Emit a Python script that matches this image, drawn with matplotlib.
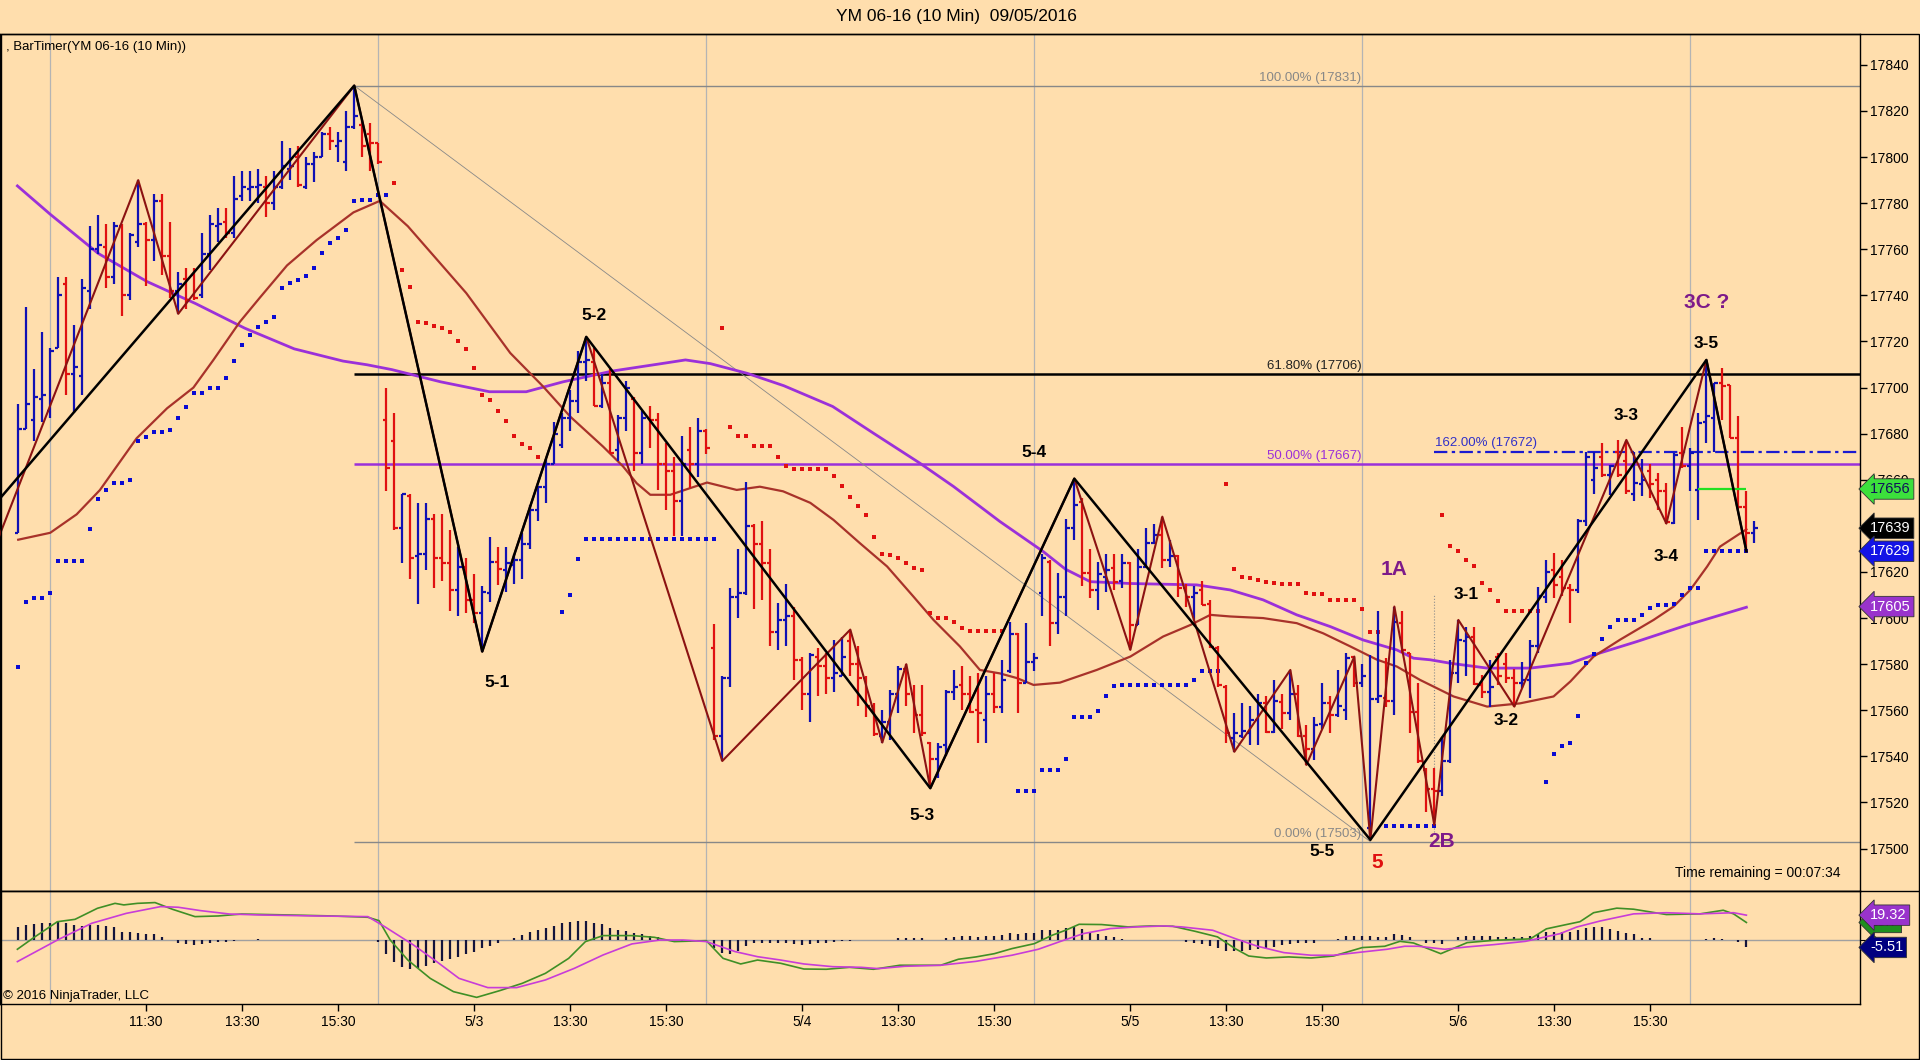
import numpy as np
import matplotlib
matplotlib.use("Agg")
import matplotlib.pyplot as plt
from matplotlib.patches import Rectangle
from matplotlib.lines import Line2D

plt.rcParams['font.family'] = ['Liberation Sans', 'DejaVu Sans']

# ---------------- data ----------------
first_bar = -4
opens = [
    17637, 17682, 17686, 17695, 17690, 17717, 17745, 17706, 17705, 17742,
    17760, 17761, 17748, 17770, 17740, 17763, 17771, 17764, 17781, 17757,
    17742, 17747, 17749, 17740, 17758, 17770, 17772, 17767, 17783, 17786,
    17787, 17787, 17780, 17787, 17795, 17800, 17787, 17797, 17800, 17810,
    17805, 17798, 17813, 17814, 17810, 17806, 17686, 17677, 17639, 17653,
    17627, 17628, 17643, 17626, 17624, 17612, 17622, 17608, 17602, 17611,
    17624.5, 17621, 17623, 17625, 17632, 17647, 17657, 17667, 17675, 17687,
    17694, 17711, 17711, 17692, 17702, 17673, 17687, 17695, 17671.5, 17687,
    17686, 17667, 17663.6, 17651, 17673, 17667, 17681, 17587, 17549, 17574,
    17609, 17611, 17640, 17632, 17624, 17594, 17599, 17601, 17582, 17567,
    17583, 17579, 17574, 17575, 17590, 17580, 17574, 17562, 17549, 17555,
    17567, 17578, 17567, 17558, 17546, 17539, 17545, 17568, 17571, 17567,
    17560, 17556, 17567, 17561.6, 17577, 17593, 17572, 17581, 17611, 17624.5,
    17598, 17609, 17639, 17650.5, 17619.5, 17612, 17618, 17621.6, 17616, 17624,
    17597, 17622, 17632.5, 17636, 17625, 17627, 17613, 17609, 17612, 17606,
    17587, 17570, 17548, 17549, 17550, 17556, 17563, 17550.7, 17563.5, 17559,
    17567, 17549, 17543, 17554, 17563, 17558, 17560, 17583, 17572, 17509,
    17565, 17565.3, 17564, 17598, 17585, 17559.4, 17534, 17526, 17525, 17538,
    17576, 17590, 17592, 17571, 17568, 17583, 17580, 17574, 17572, 17573,
    17588, 17609, 17621, 17618, 17613, 17612, 17642, 17660, 17670, 17662,
    17672, 17668, 17654, 17658, 17664, 17660, 17655, 17641.2, 17671.6, 17666,
    17655.6, 17685, 17687, 17702, 17701, 17678, 17648, 17637,
]
highs = [
    17693, 17735, 17708, 17724, 17717, 17748, 17748, 17727, 17747, 17770,
    17775, 17771, 17772, 17771, 17767, 17790, 17772, 17784, 17784, 17772,
    17750, 17752, 17752, 17767, 17775, 17778, 17778, 17792, 17794, 17794,
    17795, 17792, 17794, 17807, 17804, 17805, 17800, 17802, 17811, 17813,
    17811, 17820, 17831, 17816, 17815, 17806, 17700, 17689, 17654, 17654,
    17650, 17650, 17645, 17645, 17638, 17631, 17626, 17619, 17614, 17635,
    17631, 17631, 17628, 17637, 17649, 17657, 17669, 17685, 17689, 17699,
    17716, 17722, 17717, 17706, 17708, 17688, 17703, 17696, 17690, 17692,
    17689, 17676, 17670, 17679, 17683, 17687, 17682, 17597.5, 17575, 17613,
    17630, 17659, 17641, 17642, 17630, 17606.5, 17615, 17605, 17583, 17585,
    17587, 17585, 17590.5, 17592, 17595, 17588, 17575, 17563, 17560, 17569,
    17579, 17580, 17571, 17571, 17546.4, 17546, 17569, 17577.5, 17579, 17575,
    17576, 17575, 17576, 17582, 17598.5, 17593.4, 17598, 17585, 17628, 17625,
    17619.5, 17643, 17660.5, 17652, 17630, 17624.5, 17628, 17628, 17628, 17624.5,
    17630, 17639, 17641, 17644, 17634, 17627.4, 17615, 17614, 17616, 17608,
    17588, 17571, 17559, 17563, 17562, 17567, 17566, 17573, 17567, 17577.5,
    17571, 17553.6, 17557, 17572, 17566, 17577.5, 17585, 17583.3, 17580, 17584,
    17603, 17582.6, 17605, 17603, 17585, 17572, 17535, 17534.8, 17548.6, 17582,
    17599, 17596, 17596.3, 17575.4, 17582, 17585, 17585, 17578, 17581, 17590.6,
    17613.7, 17625.3, 17628.2, 17625.3, 17615, 17643, 17672, 17672, 17676, 17666.5,
    17677.3, 17677, 17672, 17669, 17667, 17663, 17658.5, 17671.6, 17683, 17673.7,
    17689, 17712, 17702, 17708.4, 17701, 17687.5, 17655, 17642,
]
lows = [
    17637, 17682, 17677, 17685, 17687, 17717, 17697, 17689, 17697, 17734,
    17758, 17743, 17745, 17731, 17738, 17761, 17744, 17755, 17749, 17739,
    17732, 17734, 17738, 17739, 17751, 17763, 17765, 17765, 17781, 17781,
    17780, 17774, 17777, 17786, 17790, 17787, 17786, 17789, 17800, 17803,
    17798, 17794, 17812, 17800, 17794, 17797, 17655, 17638, 17624, 17617,
    17606, 17621, 17613, 17616, 17603, 17601, 17602, 17598, 17585.5, 17607,
    17614.5, 17611.5, 17615, 17617, 17630, 17642, 17650, 17667, 17674, 17681,
    17689, 17703, 17692, 17691, 17671.5, 17668, 17681, 17664, 17667, 17674,
    17655.6, 17647, 17635.4, 17635.4, 17656.4, 17661, 17671, 17547, 17538, 17570,
    17600, 17610, 17604, 17608, 17588, 17586, 17588, 17573, 17560, 17555,
    17566, 17567, 17568, 17575, 17575, 17562, 17557, 17549, 17546, 17547,
    17559, 17562, 17550, 17549, 17526.2, 17530.5, 17540, 17564.5, 17560, 17559,
    17546, 17546, 17559, 17559, 17576, 17559, 17572, 17577, 17601, 17588,
    17593, 17601, 17634, 17614, 17608.6, 17603.5, 17611.5, 17612, 17613, 17586.2,
    17597, 17622, 17632, 17621.6, 17622, 17609, 17605, 17599, 17605.7, 17587,
    17570, 17545.7, 17542, 17548, 17545, 17545, 17550, 17550, 17552, 17556,
    17548.6, 17536.3, 17538.5, 17552, 17550, 17557, 17556, 17570, 17570, 17503.8,
    17563, 17561.6, 17558, 17585, 17550, 17537, 17516, 17510.3, 17522.6, 17537,
    17572, 17575, 17571, 17565.3, 17561.6, 17571, 17572, 17561.6, 17569.6, 17565.3,
    17584.8, 17606.5, 17608.6, 17609.4, 17597.8, 17611, 17640, 17654, 17661, 17653.5,
    17661, 17654, 17651, 17653, 17652, 17647, 17641, 17641, 17665, 17655,
    17642.6, 17676, 17672, 17686, 17678, 17647.5, 17629, 17632.5,
]
closes = [
    17682, 17693, 17696, 17697, 17716, 17740, 17706, 17709, 17743, 17760,
    17762, 17748, 17770, 17740, 17766, 17771, 17764, 17781, 17757, 17742,
    17745, 17738, 17739, 17758, 17771, 17771, 17767, 17782, 17787, 17787,
    17788, 17780, 17787, 17796, 17796, 17788, 17797, 17800, 17810, 17807,
    17807, 17813, 17818, 17805, 17806, 17798, 17665, 17639, 17654, 17626,
    17628, 17643, 17626, 17624, 17612, 17622, 17608, 17602, 17611.5, 17624.5,
    17621.5, 17624, 17625, 17632, 17647, 17657, 17667, 17680, 17687, 17694,
    17711, 17712, 17692, 17702, 17671.5, 17687, 17700, 17671.5, 17687, 17686,
    17667, 17663.6, 17651, 17667, 17667, 17681, 17674, 17549, 17574, 17609,
    17611, 17640, 17632, 17624, 17594, 17599, 17601, 17582, 17567, 17584,
    17579, 17574, 17576, 17583, 17580, 17574, 17562, 17549.5, 17555, 17567,
    17578, 17567, 17558, 17550, 17539, 17544, 17568, 17570, 17567, 17559.4,
    17558.7, 17567, 17561.6, 17573, 17593, 17572, 17581, 17582.6, 17626, 17598,
    17609, 17639, 17649, 17619.5, 17612, 17619, 17621, 17615.8, 17624, 17597,
    17622, 17632.5, 17636, 17625, 17627, 17613, 17609, 17611, 17605.7, 17587.5,
    17571, 17550, 17550, 17551, 17556, 17563, 17550.5, 17564, 17559, 17567,
    17549, 17543, 17553.6, 17563, 17558, 17562, 17582.6, 17572, 17575, 17565,
    17566, 17564, 17598.5, 17586, 17559.4, 17538, 17526, 17525, 17538, 17576,
    17590.6, 17592, 17571.5, 17568, 17570, 17575, 17574, 17572, 17573.2, 17587.7,
    17609.4, 17620, 17614.4, 17613, 17612.3, 17642, 17670, 17665, 17662, 17665.8,
    17662, 17655, 17658.5, 17660, 17658, 17655, 17641.5, 17670.8, 17665.8, 17671.6,
    17684.6, 17687.5, 17701.9, 17700.5, 17678.1, 17648, 17637, 17639,
]

# parabolic SAR dots (runs: first bar index + values)
sar_below_start = [-4, 64, 121, 167, 187]
sar_below_vals = [
    [17578.8, 17607, 17608.7, 17608.7, 17611, 17624.8, 17624.8, 17624.8, 17624.8, 17638.6,
     17651.7, 17655.5, 17658.8, 17658.8, 17660, 17677, 17678.7, 17680.9, 17680.9, 17681.7,
     17687, 17691.7, 17697.8, 17697.8, 17700, 17700, 17704, 17711.6, 17718.6, 17722.7,
     17726.5, 17728.5, 17730.5, 17743, 17745.5, 17746.8, 17748.4, 17751.8, 17758.4, 17762.7,
     17764.7, 17768.4, 17780.8, 17781.4, 17781.4, 17783.6, 17783.6],
    [17602.8, 17610.1, 17625.5] + [17634.5] * 17,
    [17525.2, 17525.2, 17525.2, 17534.1, 17534.1, 17534.1, 17538.9, 17557.3, 17557.3, 17557.3,
     17559.9, 17566, 17570.6] + [17571] * 9 + [17573, 17577.2, 17577.2, 17577.2],
    [17509.8] * 7,
    [17528.9, 17541, 17544.5, 17545.7, 17557.5, 17580.4, 17584.4, 17591.1, 17596.1, 17599,
     17599, 17599, 17601.2, 17604.5, 17605.6, 17605.8, 17606.2, 17610.1, 17612.9, 17612.9]
    + [17629] * 6,
]
sar_above_start = [43, 84, 147, 174]
sar_above_vals = [
    [17788.7, 17750.8, 17743.8, 17728.6, 17728, 17726.9, 17725.8, 17723.9, 17720, 17716.8,
     17708.7, 17696.8, 17694.7, 17689.9, 17685.6, 17678.8, 17675.6, 17673.7, 17670.1],
    [17725.8, 17683, 17679, 17679, 17674.7, 17674.7, 17674.7, 17670.1, 17665.8]
    + [17664.7] * 5
    + [17661.7, 17657.1, 17652.7, 17648.7, 17644.8, 17635, 17627.9, 17627.4, 17626, 17623.8,
       17621.9, 17620.9, 17602.1, 17600.2, 17600.2, 17598.1, 17595.6] + [17594.2] * 5,
    [17658.1, 17621.2, 17618, 17617.3, 17616.6, 17615.8, 17615.1, 17614.8, 17614.8, 17614.8,
     17610.8, 17610.3, 17610.3, 17607.9, 17607.9, 17607.9, 17607.9, 17604, 17594.1, 17594.1],
    [17644.8, 17631.1, 17628.9, 17625, 17622.7, 17615.1, 17612, 17607.2] + [17602.9] * 5,
]

# moving averages (read at chart positions)
ema_x = [-4, 0, 3.3, 6.2, 10.8, 14.6, 17.9, 20.4, 23.7, 26.2, 29.6, 33.3, 37.9, 41.2, 44.7, 52,
         57.5, 61.6, 65, 69.1, 71.6, 73.3, 75, 77.5, 80, 82.1, 85.8, 88.7, 91.6, 95, 97.9, 101.2,
         104.6, 107.9, 110.4, 113.7, 116.2, 118.7, 120.8, 122.9, 126.2, 130.8, 135, 139.1, 142.5,
         145, 147.5, 151.6, 155.8, 159.1, 162.5, 165.8, 168.3, 171.2, 175.4, 179.6, 183.7, 187.9,
         190, 192.9, 196.2, 200.4, 202.9, 205, 207.1, 208.7, 212]
ema_y = [17634, 17637, 17645, 17655.5, 17678, 17691, 17700, 17712, 17728.5, 17739, 17753, 17764,
         17776, 17781, 17770, 17741, 17715, 17700.5, 17687.4, 17674.4, 17665.8, 17658.5, 17653.5,
         17653.5, 17656.4, 17658.8, 17655.6, 17657, 17655, 17650, 17642.6, 17632.5, 17622.4,
         17609.3, 17599.2, 17587.7, 17577.5, 17576, 17574, 17571, 17572, 17577.5, 17583.3, 17592,
         17597, 17601.4, 17600.7, 17600, 17597.8, 17593.4, 17587.7, 17582, 17579, 17573.2, 17566,
         17561.6, 17563, 17566, 17572.5, 17583.3, 17590.6, 17599.2, 17605, 17612.3, 17622.4,
         17631, 17638.5]
sma_x = [-4.1, 0, 6, 12.1, 18.2, 24.3, 30.5, 36.6, 39.6, 42.7, 48.8, 54.9, 59.5, 64.1, 70.3, 76.4,
         79.4, 82.5, 87.1, 91.7, 97.8, 102.9, 108.7, 112.9, 118.7, 124.1, 126.9, 130, 135, 143.3,
         147.5, 151.6, 155.8, 160, 164.1, 168.3, 170.4, 172.5, 175, 179.6, 185, 190, 192.9, 198.3,
         204.6, 212]
sma_y = [17787.5, 17775.2, 17758.2, 17746, 17736.4, 17725.8, 17716.8, 17711.5, 17709.9, 17707.8,
         17702.5, 17698.2, 17698.2, 17702.5, 17707.2, 17710.4, 17712, 17710.4, 17706.2, 17700.8,
         17691.8, 17680.2, 17667.2, 17657.1, 17641.9, 17628.9, 17621.2, 17615.8, 17615, 17614.4,
         17612.2, 17607.9, 17601.4, 17596.3, 17590.5, 17586.2, 17582.6, 17581.9, 17580.4, 17578.3,
         17578.3, 17580.4, 17584, 17589.8, 17597, 17604.7]

# swing (zigzag) pivots
major_zz_x = [-7, 38, 54, 67, 110, 128, 165, 207, 212]
major_zz_y = [17649, 17831, 17585.5, 17722, 17526.2, 17660.5, 17503.8, 17712, 17629]
minor_zz_x = [-7, 11, 16, 38, 54, 67, 84, 100, 104, 107, 110, 128, 135, 139, 148, 155, 157, 163,
              165, 168, 173, 176, 183, 197, 202, 207, 212]
minor_zz_y = [17630, 17790, 17732, 17831, 17585.5, 17722, 17538, 17595, 17546, 17580, 17526.2,
              17660.5, 17586.2, 17644, 17542, 17577.5, 17536.3, 17583.3, 17503.8, 17605, 17510.3,
              17599.2, 17561.6, 17677.3, 17641, 17712, 17629]

# Fibonacci retracement (from high bar 38 to low bar 165)
fib_from_bar, fib_to_bar = 38, 165
fib_names = ['100.00%', '61.80%', '50.00%', '0.00%']
fib_levels = [17831, 17706, 17667, 17503]
ext_name, ext_level, ext_from_bar = '162.00%', 17672, 173

# oscillator panel
osc_fast_x = [-4.1, -2, 0.9, 3.1, 5.9, 8.1, 9.2, 10.9, 13.1, 15.3, 18.1, 21, 23.9, 29.6, 35.3, 39.7,
              41.1, 42.5, 44.7, 47.5, 50.4, 53.3, 56.2, 59, 61.9, 64.8, 66.9, 69.1, 72.7, 75.5, 78,
              82, 84.1, 86.3, 88.4, 91.3, 94.2, 97, 99.9, 102.9, 106.2, 111.3, 113.5, 115.7, 118,
              120.2, 123, 125.2, 126.9, 128.6, 131.4, 134.7, 137.5, 140.3, 143.1, 145.9, 148.1,
              149.8, 152, 154.8, 157.6, 160.4, 164, 166.8, 168.7, 170.4, 173.8, 177.1, 180.5, 185,
              187, 189.5, 191.2, 192.9, 195.8, 197.9, 202, 206.2, 209.1, 210.4, 212]
osc_fast_y = [-6.9, 2.3, 14.3, 16.1, 24.6, 28.4, 27.2, 28.4, 29, 23.8, 18.2, 18.7, 20.2, 19.5, 18.7,
              17.7, 15.1, 0.2, -15.2, -29.3, -39.5, -43.9, -38.7, -33.1, -25.4, -13.9, -1, 3.6,
              3.6, 2.3, -1, -0.3, -13.9, -18.2, -15.2, -17.7, -22.1, -22.3, -20.8, -22.3, -19.2,
              -19.2, -14.6, -12.8, -10.3, -6.4, -2.6, 3.8, 7.7, 12.3, 12.1, 10.3, 11, 10.8, 6.9,
              2.6, -6.4, -12.1, -13.6, -12.8, -13.6, -12.1, -5.6, -4.6, -0.8, -2.1, -10.3, -1.8,
              0, 1.1, 8.8, 12.1, 14.3, 21.2, 24.7, 23.9, 19.8, 20.3, 23.1, 20.3, 13.7]
osc_slow_x = [-4.1, 0.9, 5.2, 9.5, 13.8, 16, 18.8, 22.4, 26, 33.2, 39.7, 41.8, 45.4, 48.3, 51.1,
              54.7, 58.3, 61.9, 65.5, 69.1, 72.7, 76.2, 79.1, 82, 85.6, 88.4, 91.3, 94.2, 97.8,
              101.4, 103.5, 106.8, 111.3, 115.7, 120.2, 123.5, 126.3, 129.1, 132.5, 135.8, 139.2,
              141.4, 145.3, 148.1, 150.9, 154.2, 157.6, 160.4, 164, 167.1, 169.3, 171, 174.3,
              177.1, 180.5, 184.4, 188.7, 190.8, 193.7, 197.9, 202, 206.2, 210.4, 212]
osc_slow_y = [-16.4, 0.2, 13.1, 20.7, 25.9, 25.4, 22.8, 20.2, 19.5, 18.7, 18.2, 10.5, -3.6, -16.4,
              -29.3, -36.4, -36.4, -30.5, -21.6, -11.3, -2.8, 0.2, 0.2, -1, -8.7, -12.6, -15.2,
              -18.2, -20.3, -20.8, -21.8, -20, -19.2, -16.2, -11.5, -6.9, -0.8, 5.1, 9, 10.3, 11,
              10.3, 7.7, 1.3, -4.6, -9.5, -11.5, -11.5, -9, -6.9, -4.6, -4.6, -6.9, -5.1, -3.3,
              -0.8, 5.1, 10.2, 14.8, 20.3, 21.2, 20.3, 21.2, 19.32]
osc_hist = [
    10.5, 11.8, 12.6, 13.1, 13.6, 14.9, 13.1, 11.8, 11.0, 11.8,
    11.8, 11.0, 10.5, 6.7, 6.2, 5.4, 4.9, 4.9, 2.3, 0.0,
    -1.8, -2.8, -3.8, -2.8, -1.8, -1.3, -1.0, -0.8, 0.0, 0.0,
    0.8, 0.0, 0.3, 0.0, 0.0, 0.0, 0.3, 0.3, 0.3, 0.0,
    0.0, 0.0, 0.0, 0.3, 0.3, -1.0, -10.5, -16.4, -20.3, -22.3,
    -21.5, -19.7, -17.7, -15.9, -14.6, -12.6, -10.8, -8.7, -6.2, -4.4,
    -1.8, 0.0, 1.5, 4.1, 6.7, 7.9, 9.2, 11.0, 13.1, 14.4,
    14.9, 14.9, 13.6, 12.6, 9.2, 7.9, 7.2, 5.9, 4.9, 3.3,
    2.3, 1.3, 0.3, -0.8, -1.3, -0.8, 0.0, -6.2, -9.7, -10.5,
    -7.9, -4.4, -2.3, -1.8, -2.3, -2.3, -1.8, -2.8, -3.6, -2.8,
    -2.3, -1.8, -1.3, -0.8, -0.3, 0.3, 0.0, 0.5, 0.5, 0.0,
    1.8, 1.8, 1.8, 1.8, 0.0, 0.0, 1.8, 2.3, 3.0, 3.0,
    2.5, 3.0, 3.3, 4.1, 5.4, 5.1, 5.4, 5.4, 8.0, 7.7,
    8.0, 9.7, 10.3, 8.5, 6.4, 5.1, 3.6, 2.3, 1.3, 0.5,
    0.5, 0.5, 0.5, 0.5, 0.5, 0.0, -1.3, -1.8, -2.8, -4.6,
    -5.6, -8.0, -8.2, -8.5, -7.7, -6.9, -6.4, -5.1, -3.6, -2.8,
    -2.3, -2.3, -2.3, 0.0, 0.0, 1.0, 3.3, 3.6, 3.6, 3.0,
    2.8, 2.3, 4.6, 4.3, 2.8, 0.0, -2.3, -2.3, -2.8, 0.0,
    2.3, 3.6, 3.6, 3.3, 3.0, 2.8, 2.6, 2.6, 2.8, 3.5,
    5.0, 6.7, 6.5, 6.6, 6.6, 8.0, 9.3, 10.2, 10.2, 8.8,
    7.4, 5.5, 4.7, 1.9, 1.4, 0.5, 0.0, 0.3, 0.3, 0.3,
    0.0, 1.1, 1.6, 1.1, 0.5, -1.6, -5.51,
]

# axis labelling
session_start_bars = [0, 41, 82, 123, 164, 205]
xtick_bars = [12, 24, 36, 53, 65, 77, 94, 106, 118, 135, 147, 159, 176, 188, 200]
xtick_labels = ['11:30', '13:30', '15:30', '5/3', '13:30', '15:30', '5/4', '13:30', '15:30',
                '5/5', '13:30', '15:30', '5/6', '13:30', '15:30']
ytick_values = list(range(17500, 17841, 20))
last_price, sar_now, sma_now, stop_line = 17639, 17629, 17605, 17656
stop_from_bar, stop_to_bar = 206, 212
osc_fast_now, osc_slow_now, osc_hist_now = 13.7, 19.32, -5.51

# ---------------- style ----------------
BG = '#FFDEAD'
UP = '#1010b4'
DN = '#e01010'
PURPLE = '#9b30d9'
W, H = 1920, 1060


def fx(px):
    return px / W


def fy(py):
    return 1 - py / H


fig = plt.figure(figsize=(W / 100, H / 100), dpi=100, facecolor=BG)
ax = fig.add_axes([0, fy(891), fx(1860), fy(34) - fy(891)], facecolor=BG)
axi = fig.add_axes([0, fy(1004), fx(1860), fy(891) - fy(1004)], facecolor=BG, sharex=ax)

XL = (-6.275, 226.2)
ax.set_xlim(*XL)
ax.set_ylim(17481.6, 17853.4)
axi.set_ylim(-49.0, 37.9)

for a in (ax, axi):
    for b in session_start_bars:
        a.axvline(b, color='#b4b4b4', lw=0.9, zorder=0)
    for s in a.spines.values():
        s.set_color('black')
        s.set_linewidth(1.0)

# Fibonacci
fib_colors = ['#888888', 'black', PURPLE, '#888888']
fib_lw = [1.0, 1.8, 1.8, 1.0]
for name, lev, c, lw in zip(fib_names, fib_levels, fib_colors, fib_lw):
    ax.hlines(lev, fib_from_bar, XL[1], color=c, lw=lw, zorder=2)
    ax.annotate(f'{name} ({lev})', xy=(fib_to_bar, lev), xytext=(-9, 2),
                textcoords='offset pixels', ha='right', va='bottom', fontsize=9.5,
                color=c if c != 'black' else '#222222', zorder=6)
ax.plot([fib_from_bar, fib_to_bar], [fib_levels[0], fib_levels[-1]], color='#888888',
        lw=0.6, zorder=2)
ax.hlines(ext_level, ext_from_bar, XL[1], color='#1a1ad0', lw=1.6,
          linestyles=(0, (6, 2, 1.5, 2)), zorder=3)
ax.annotate(f'{ext_name} ({ext_level})', xy=(ext_from_bar, ext_level), xytext=(1, 3),
            textcoords='offset pixels', ha='left', va='bottom', fontsize=9.5,
            color='#3030c8', zorder=6)

# dotted marker line
ax.vlines(minor_zz_x[20], 17507, 17610, color='#8c8c8c', lw=0.8, linestyles=':', zorder=2)

# moving averages
ax.plot(sma_x, sma_y, color=PURPLE, lw=2.0, zorder=3)
ax.plot(ema_x, ema_y, color='#a8322a', lw=1.6, zorder=3)

# SAR
for st, vals in zip(sar_below_start, sar_below_vals):
    ax.plot(np.arange(st, st + len(vals)), vals, 's', ms=3.0, mew=0, color='#0a0ad2', zorder=4)
for st, vals in zip(sar_above_start, sar_above_vals):
    ax.plot(np.arange(st, st + len(vals)), vals, 's', ms=3.0, mew=0, color='#e01010', zorder=4)

# bars
o = np.array(opens, float)
h = np.array(highs, float)
l = np.array(lows, float)
c = np.array(closes, float)
bx = np.arange(first_bar, first_bar + len(o))
cols = np.where(c >= o, UP, DN)
ax.vlines(bx, l, h, colors=cols, lw=1.6, zorder=5)
ax.hlines(o, bx - 0.45, bx, colors=cols, lw=1.6, zorder=5)
ax.hlines(c, bx, bx + 0.45, colors=cols, lw=1.6, zorder=5)

# stop line
ax.hlines(stop_line, stop_from_bar, stop_to_bar, color='#22e022', lw=1.6, zorder=6)

# zigzags
ax.plot(minor_zz_x, minor_zz_y, color='#8b1212', lw=1.5, zorder=6)
ax.plot(major_zz_x, major_zz_y, color='black', lw=1.8, zorder=7)

# wave labels
labels = [
    ('5-1', 2, 15, -31, 'black', 12.5), ('5-2', 3, 8, 21, 'black', 12.5),
    ('5-3', 4, -8, -27, 'black', 12.5), ('5-4', 5, -40, 26, 'black', 12.5),
    ('5-5', 6, -48, -12, 'black', 12.5), ('5', 6, 7, -23, '#e01010', 15),
    ('3-5', 7, 0, 16, 'black', 12.5), ('3C ?', 7, 0, 57, '#7d1a8a', 15),
]
for txt, k, dx, dy, col, fs in labels:
    ax.annotate(txt, xy=(major_zz_x[k], major_zz_y[k]), xytext=(dx, dy),
                textcoords='offset pixels', ha='center', va='center', fontsize=fs,
                fontweight='bold', color=col, zorder=9)
minor_labels = [
    ('1A', 19, 0, 37, '#7d1a8a', 15), ('2B', 20, 7, -17, '#7d1a8a', 15),
    ('3-1', 21, 8, 25, 'black', 12.5), ('3-2', 22, -8, -14, 'black', 12.5),
    ('3-3', 23, 0, 24, 'black', 12.5), ('3-4', 24, 0, -33, 'black', 12.5),
]
for txt, k, dx, dy, col, fs in minor_labels:
    ax.annotate(txt, xy=(minor_zz_x[k], minor_zz_y[k]), xytext=(dx, dy),
                textcoords='offset pixels', ha='center', va='center', fontsize=fs,
                fontweight='bold', color=col, zorder=9)

# price axis
ax.yaxis.tick_right()
ax.set_yticks(ytick_values)
ax.set_yticklabels([str(v) for v in ytick_values])
ax.tick_params(axis='y', direction='out', length=5, width=1, pad=2, labelsize=10)
ax.tick_params(axis='x', bottom=False, labelbottom=False)


def tag(a, y, text, fc, tc, fs=10.5):
    a.annotate(text, xy=(1.0, y), xycoords=('axes fraction', 'data'), xytext=(10, 0),
               textcoords='offset pixels', ha='left', va='center', fontsize=fs, color=tc,
               bbox=dict(boxstyle='larrow,pad=0.22', fc=fc, ec='#333333', lw=0.6),
               annotation_clip=False, zorder=20)


tag(ax, stop_line, f'{stop_line}', '#3ce03c', '#10105a')
tag(ax, last_price, f'{last_price}', 'black', 'white')
tag(ax, sar_now, f'{sar_now}', '#1414e6', 'white')
tag(ax, sma_now, f'{sma_now}', '#9933cc', 'white')

# oscillator
axi.axhline(0, color='#a0a0a0', lw=1.0, zorder=1)
hx = np.arange(first_bar, first_bar + len(osc_hist))
axi.vlines(hx, 0, osc_hist, color='#14143c', lw=1.6, zorder=2)
axi.plot(osc_fast_x, osc_fast_y, color='#3f8f26', lw=1.2, zorder=3)
axi.plot(osc_slow_x, osc_slow_y, color='#c83cd8', lw=1.2, zorder=3)
axi.yaxis.tick_right()
axi.set_yticks([0])
axi.set_yticklabels(['0'])
axi.tick_params(axis='y', direction='out', length=5, pad=2, labelsize=10)
axi.set_xticks(xtick_bars)
axi.set_xticklabels(xtick_labels)
axi.tick_params(axis='x', direction='out', length=5, width=1, pad=3, labelsize=10)
tag(axi, osc_fast_now, f'{osc_fast_now}', '#1f8f1f', '#0a0a40')
tag(axi, osc_slow_now, f'{osc_slow_now}', '#9933cc', 'white')
tag(axi, osc_hist_now, f'{osc_hist_now}', '#000080', 'white')

# frame and texts
fig.add_artist(Rectangle((fx(0.5), fy(1059)), fx(1918.5), fy(34) - fy(1059),
                         transform=fig.transFigure, fill=False, ec='black', lw=1.0))
fig.add_artist(Line2D([0, 1], [fy(891), fy(891)], transform=fig.transFigure, color='black', lw=1.0))
fig.text(fx(956), fy(16), 'YM 06-16 (10 Min)  09/05/2016', ha='center', va='center', fontsize=12.5)
fig.text(fx(6), fy(47), ', BarTimer(YM 06-16 (10 Min))', ha='left', va='center', fontsize=9.5)
fig.text(fx(1675), fy(873), 'Time remaining = 00:07:34', ha='left', va='center', fontsize=10)
fig.text(fx(3), fy(996), '\u00a9 2016 NinjaTrader, LLC', ha='left', va='center', fontsize=9.5)

fig.savefig('out.png', dpi=100, facecolor=BG)
